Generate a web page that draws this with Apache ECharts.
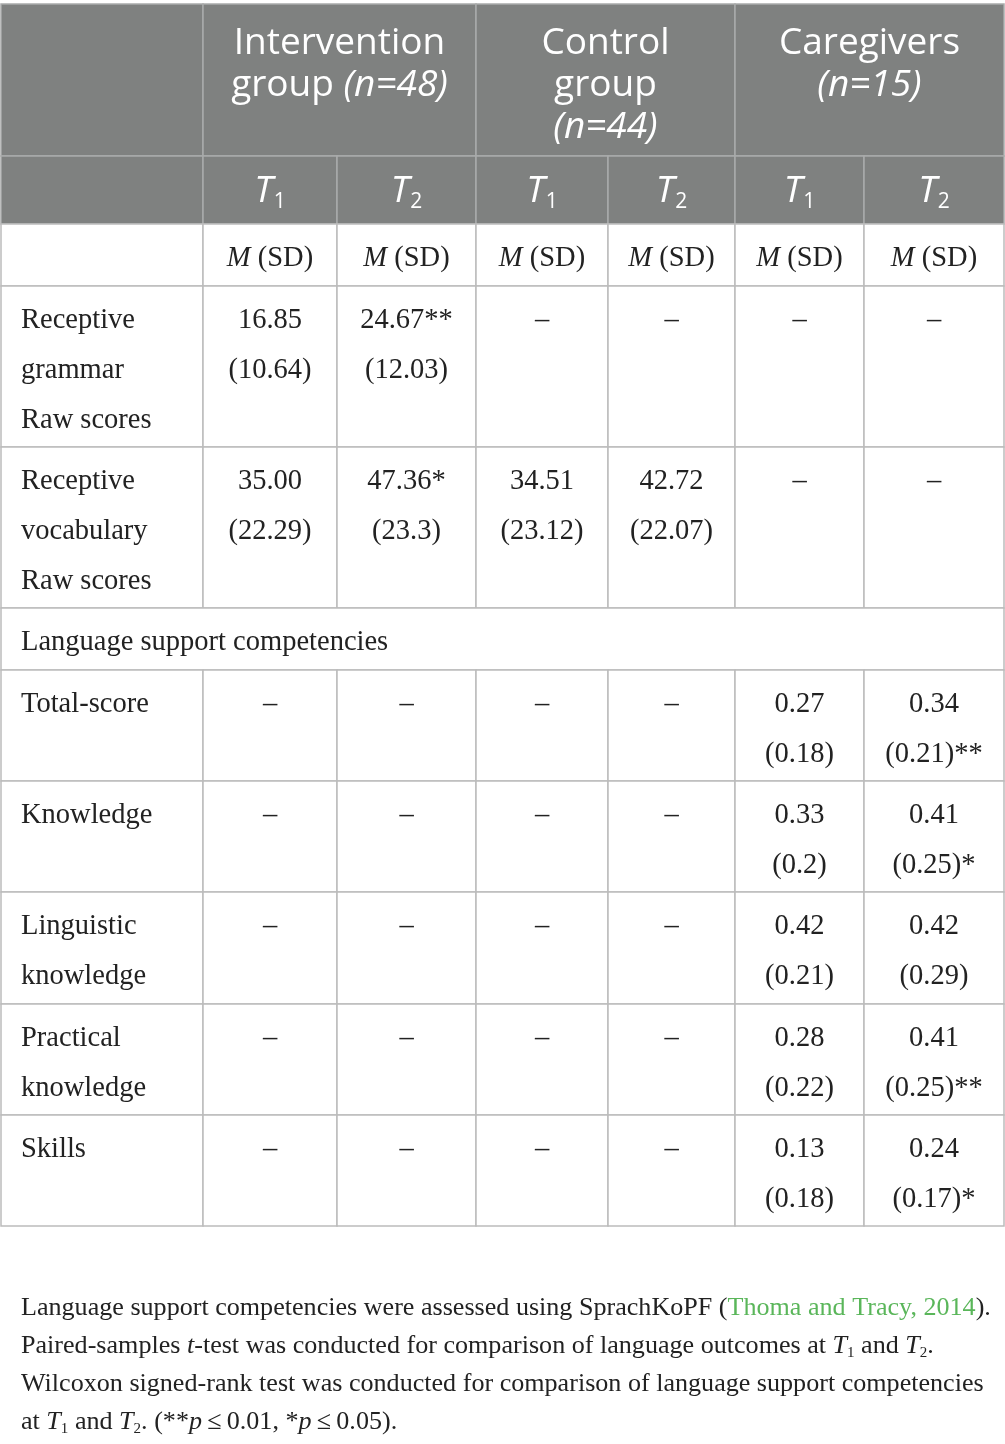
<!DOCTYPE html>
<html><head><meta charset="utf-8">
<script src="https://cdn.jsdelivr.net/npm/echarts@6/dist/echarts.min.js"></script>
<style>html,body{margin:0;padding:0;background:#fff}#c{width:1005px;height:1444px}</style>
</head><body><div id="c"></div>
<script>
// ---- table content ----
const groupHeaders = ['Intervention\ngroup {i|(n=48)}', 'Control\ngroup\n{i|(n=44)}', 'Caregivers\n{i|(n=15)}'];
const timepoints = ['1', '2'];
const statHeader = '{i|M} (SD)';
const measures = ['Receptive\ngrammar\nRaw scores', 'Receptive\nvocabulary\nRaw scores', 'Language support competencies',
  'Total-score', 'Knowledge', 'Linguistic\nknowledge', 'Practical\nknowledge', 'Skills'];
const sectionRows = [2];
const interventionT1 = ['16.85\n(10.64)', '35.00\n(22.29)', null, '–', '–', '–', '–', '–'];
const interventionT2 = ['24.67**\n(12.03)', '47.36*\n(23.3)', null, '–', '–', '–', '–', '–'];
const controlT1 = ['–', '34.51\n(23.12)', null, '–', '–', '–', '–', '–'];
const controlT2 = ['–', '42.72\n(22.07)', null, '–', '–', '–', '–', '–'];
const caregiversT1 = ['–', '–', null, '0.27\n(0.18)', '0.33\n(0.2)', '0.42\n(0.21)', '0.28\n(0.22)', '0.13\n(0.18)'];
const caregiversT2 = ['–', '–', null, '0.34\n(0.21)**', '0.41\n(0.25)*', '0.42\n(0.29)', '0.41\n(0.25)**', '0.24\n(0.17)*'];
const footnoteLines = [
  'Language support competencies were assessed using SprachKoPF ({g|Thoma and Tracy, 2014}).',
  'Paired-samples {i|t}-test was conducted for comparison of language outcomes at {i|T}{sub|1} and {i|T}{sub|2}.',
  'Wilcoxon signed-rank test was conducted for comparison of language support competencies',
  'at {i|T}{sub|1} and {i|T}{sub|2}. (**{i|p}\u2009≤\u20090.01, *{i|p}\u2009≤\u20090.05).'
];

// ---- layout (grid line positions in page units) ----
const colEdges = [1, 203, 337, 476, 608, 735, 864, 1004];
const rowEdges = [4, 156, 224, 286, 447, 608, 670, 781, 892, 1004, 1115, 1226];

const SANS = 'Open Sans';
const SERIF = 'Liberation Serif';
const HEAD_BG = '#7f8180';
const BORDER = '#bcbcbc';
const INK = '#222222';
const GREEN = '#5ab65a';

const cells = [];
function add(c0, c1, r0, r1, kind, text) { cells.push({ c0, c1, r0, r1, kind, text }); }
add(0, 1, 0, 1, 'head', '');
groupHeaders.forEach((g, i) => add(1 + 2 * i, 3 + 2 * i, 0, 1, 'group', g));
add(0, 1, 1, 2, 'head', '');
for (let k = 0; k < 6; k++) add(1 + k, 2 + k, 1, 2, 'time', '{t|T}{s|' + timepoints[k % 2] + '}');
add(0, 1, 2, 3, 'blank', '');
for (let k = 0; k < 6; k++) add(1 + k, 2 + k, 2, 3, 'value', statHeader);
const valueCols = [interventionT1, interventionT2, controlT1, controlT2, caregiversT1, caregiversT2];
measures.forEach((m, i) => {
  const r = 3 + i;
  if (sectionRows.includes(i)) { add(0, 7, r, r + 1, 'label', m); return; }
  add(0, 1, r, r + 1, 'label', m);
  valueCols.forEach((col, k) => add(1 + k, 2 + k, r, r + 1, 'value', col[i]));
});

function font(extra) {
  return Object.assign({ fontFamily: SERIF, fontSize: 28.5, fontStyle: 'normal', fontWeight: 'normal', fill: INK, lineHeight: 50 }, extra || {});
}

function renderItem(params, api) {
  const cell = cells[params.dataIndex];
  const p0 = api.coord([api.value(0), api.value(1)]);
  const p1 = api.coord([api.value(2), api.value(3)]);
  const x = p0[0], y = p0[1], w = p1[0] - p0[0], h = p1[1] - p0[1];
  const isHead = cell.kind === 'head' || cell.kind === 'group' || cell.kind === 'time';
  const children = [{
    type: 'rect',
    shape: { x, y, width: w, height: h },
    style: { fill: isHead ? HEAD_BG : '#ffffff', stroke: isHead ? '#a9abaa' : BORDER, lineWidth: 1.5 }
  }];
  if (cell.kind === 'group') {
    const base = { fontFamily: SANS, fontSize: 37, fontStyle: 'normal', fontWeight: 'normal', fill: '#ffffff', lineHeight: 42 };
    children.push({ type: 'text', style: Object.assign({}, base, {
      text: cell.text, x: x + w / 2, y: y + 18, align: 'center', verticalAlign: 'top',
      rich: { i: Object.assign({}, base, { fontStyle: 'italic' }) }
    }) });
  } else if (cell.kind === 'time') {
    const base = { fontFamily: SANS, fontSize: 37, fontStyle: 'italic', fontWeight: 'normal', fill: '#ffffff', lineHeight: 42 };
    children.push({ type: 'text', style: Object.assign({}, base, {
      text: cell.text, x: x + w / 2, y: y + h / 2 + 1, align: 'center', verticalAlign: 'middle',
      rich: { t: base, s: Object.assign({}, base, { fontStyle: 'normal', fontSize: 21, padding: [22, 0, 0, 1] }) }
    }) });
  } else if (cell.kind === 'label' || cell.kind === 'value') {
    const isLabel = cell.kind === 'label';
    const base = font();
    children.push({ type: 'text', style: Object.assign({}, base, {
      text: cell.text, x: isLabel ? x + 20 : x + w / 2, y: y + 10,
      align: isLabel ? 'left' : 'center', verticalAlign: 'top',
      rich: { i: font({ fontStyle: 'italic' }) }
    }) });
  }
  return { type: 'group', children };
}

const fnBase = { fontFamily: SERIF, fontSize: 26.1, fontStyle: 'normal', fontWeight: 'normal', color: INK, lineHeight: 38 };
const chart = echarts.init(document.getElementById('c'), null, { renderer: 'canvas' });
chart.setOption({
  animation: false,
  backgroundColor: '#ffffff',
  title: {
    left: 21, top: 1289, padding: 0,
    text: footnoteLines.join('\n'),
    textStyle: Object.assign({}, fnBase, {
      rich: {
        i: Object.assign({}, fnBase, { fontStyle: 'italic' }),
        g: Object.assign({}, fnBase, { color: GREEN }),
        sub: Object.assign({}, fnBase, { fontSize: 15, padding: [15, 0, 0, 0] })
      }
    })
  },
  grid: { left: 0, right: 0, top: 0, bottom: 0 },
  xAxis: { type: 'value', min: 0, max: 1005, show: false },
  yAxis: { type: 'value', min: 0, max: 1444, inverse: true, show: false },
  series: [{
    type: 'custom',
    renderItem,
    clip: false,
    data: cells.map(c => [colEdges[c.c0], rowEdges[c.r0], colEdges[c.c1], rowEdges[c.r1]])
  }]
});
</script></body></html>
